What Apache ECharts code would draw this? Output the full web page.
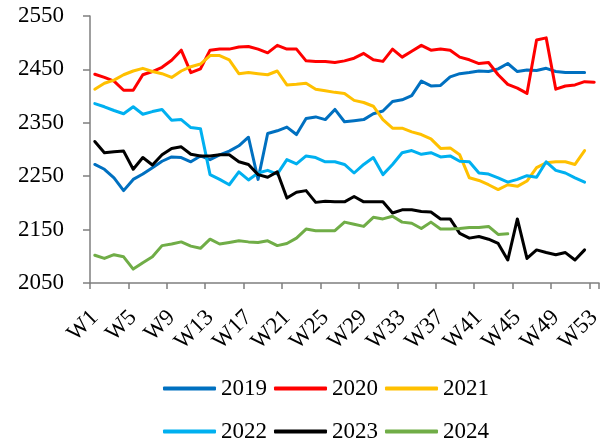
<!DOCTYPE html>
<html>
<head>
<meta charset="utf-8">
<script src="https://cdn.jsdelivr.net/npm/echarts@6/dist/echarts.min.js"></script>
<style>html,body{margin:0;padding:0;background:#fff;}#c{width:605px;height:441px;}</style>
</head>
<body>
<div id="c"></div>
<script>
var weeks = [];
for (var i = 1; i <= 53; i++) weeks.push('W' + i);

var yTicks = [2050, 2150, 2250, 2350, 2450, 2550];

var s2019 = [2272,2263,2247,2223,2244,2254,2266,2278,2286,2285,
             2277,2288,2281,2290,2297,2307,2323,2244,2330,2335,
             2342,2328,2358,2361,2356,2375,2352,2354,2356,2367,
             2372,2390,2393,2401,2428,2419,2420,2436,2442,2444,
             2447,2446,2451,2461,2446,2449,2448,2452,2446,2444,
             2444,2444];
var s2020 = [2441,2435,2428,2411,2411,2440,2446,2454,2467,2486,
             2444,2451,2486,2488,2488,2492,2493,2488,2481,2495,
             2488,2488,2466,2465,2465,2463,2466,2471,2480,2468,
             2465,2488,2473,2484,2495,2486,2488,2486,2473,2468,
             2461,2463,2440,2422,2415,2405,2505,2509,2413,2419,
             2421,2427,2426];
var s2021 = [2413,2424,2430,2440,2447,2452,2446,2442,2435,2447,
             2455,2460,2476,2476,2468,2442,2444,2442,2440,2447,
             2421,2422,2424,2413,2410,2407,2405,2392,2388,2381,
             2356,2340,2340,2333,2328,2320,2302,2303,2290,2247,
             2242,2234,2225,2234,2231,2241,2266,2275,2277,2277,
             2272,2298];
var s2022 = [2386,2380,2373,2367,2380,2366,2371,2375,2355,2356,
             2341,2339,2253,2244,2234,2258,2243,2256,2261,2254,
             2281,2273,2288,2285,2277,2277,2272,2256,2272,2285,
             2253,2272,2294,2298,2291,2294,2286,2288,2278,2277,
             2256,2254,2247,2239,2244,2251,2248,2277,2261,2256,
             2247,2239];
var s2023 = [2315,2294,2296,2297,2263,2285,2271,2290,2302,2305,
             2291,2288,2288,2290,2290,2277,2272,2253,2248,2258,
             2209,2220,2223,2201,2203,2202,2202,2212,2202,2202,
             2202,2181,2187,2187,2184,2183,2170,2170,2143,2134,
             2137,2132,2124,2093,2170,2096,2112,2107,2103,2107,
             2093,2112];
var s2024 = [2102,2096,2103,2099,2076,2088,2099,2120,2123,2127,
             2119,2115,2132,2123,2126,2129,2127,2126,2129,2120,
             2124,2134,2151,2148,2148,2148,2164,2160,2156,2173,
             2170,2175,2164,2162,2152,2164,2151,2151,2152,2154,
             2154,2156,2141,2142];

var names = ['2019','2020','2021','2022','2023','2024'];
var colors = ['#0070C0','#FF0000','#FFC000','#00B0F0','#000000','#70AD47'];
var datas = [s2019, s2020, s2021, s2022, s2023, s2024];

var FONT = "'Liberation Serif','Times New Roman',serif";

var series = names.map(function (n, k) {
  return {
    name: n, type: 'line', data: datas[k], symbol: 'none', smooth: false,
    lineStyle: { width: 3, color: colors[k], cap: 'round', join: 'round' },
    itemStyle: { color: colors[k] }
  };
});

var legendCommon = {
  left: 158, orient: 'horizontal', itemWidth: 53, itemHeight: 4, itemGap: 7,
  icon: 'roundRect',
  textStyle: { fontFamily: FONT, fontSize: 23, color: '#000' }
};

var chart = echarts.init(document.getElementById('c'));
chart.setOption({
  backgroundColor: '#fff',
  animation: false,
  color: colors,
  grid: { left: 90, right: 6, top: 16, bottom: 158, containLabel: false },
  legend: [
    Object.assign({}, legendCommon, { top: 372, data: names.slice(0, 3) }),
    Object.assign({}, legendCommon, { top: 415, data: names.slice(3) })
  ],
  xAxis: {
    type: 'category', data: weeks, boundaryGap: true,
    axisLine: { show: true, lineStyle: { color: '#7f7f7f', width: 1.5 } },
    axisTick: { show: true, interval: 3, length: 6, lineStyle: { color: '#7f7f7f', width: 1.5 } },
    axisLabel: { interval: 3, rotate: 45, margin: 31, fontFamily: FONT, fontSize: 23, color: '#000' },
    splitLine: { show: false }
  },
  yAxis: {
    type: 'value', min: yTicks[0], max: yTicks[yTicks.length - 1], interval: 100,
    axisLine: { show: true, lineStyle: { color: '#7f7f7f', width: 1.5 } },
    axisTick: { show: true, length: 7, lineStyle: { color: '#7f7f7f', width: 1.5 } },
    axisLabel: { margin: 26, fontFamily: FONT, fontSize: 23, color: '#000',
                 formatter: function (v) { return String(v); } },
    splitLine: { show: false }
  },
  series: series
});
</script>
</body>
</html>
